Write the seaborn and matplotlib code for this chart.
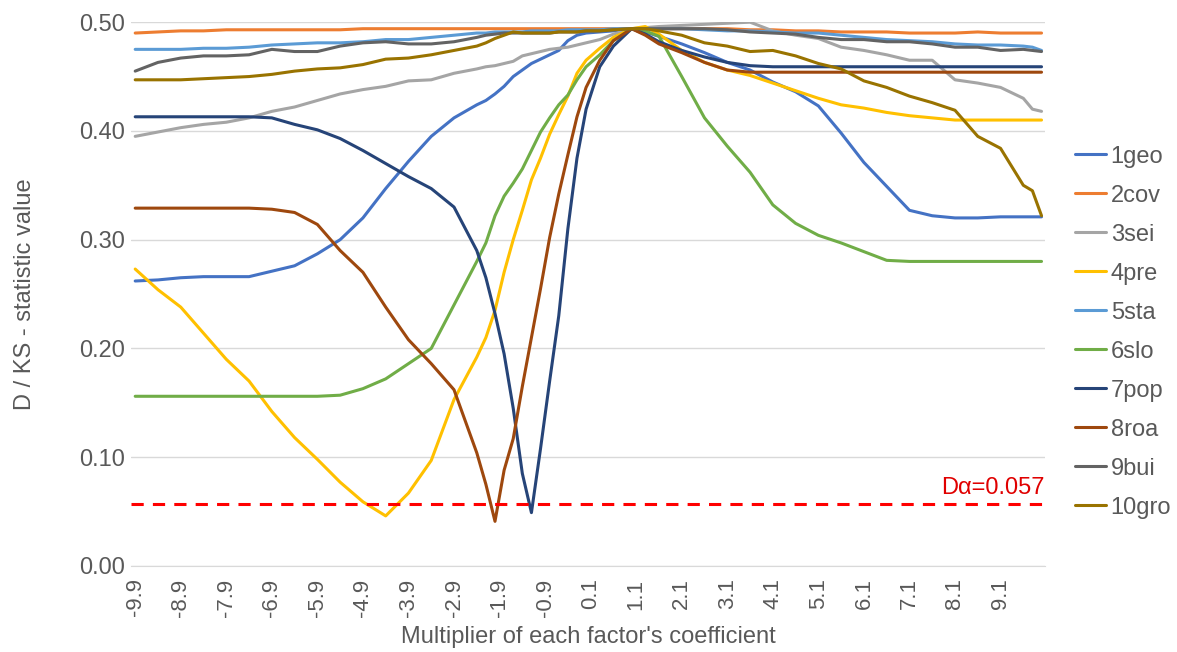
import matplotlib
matplotlib.use("Agg")
import matplotlib.pyplot as plt
import seaborn as sns
import numpy as np
import pandas as pd

# multiplier values (x) shared by all series
mult = [-9.9, -9.4, -8.9, -8.4, -7.9, -7.4, -6.9, -6.4, -5.9, -5.4, -4.9, -4.4, -3.9, -3.4, -2.9,
        -2.4, -2.2, -2.0, -1.8, -1.6, -1.4, -1.2, -1.0, -0.8, -0.6, -0.4, -0.2, 0.0,
        0.3, 0.6, 1.0,
        1.3, 1.6, 2.1, 2.6, 3.1, 3.6, 4.1, 4.6, 5.1, 5.6, 6.1, 6.6, 7.1, 7.6, 8.1, 8.6, 9.1, 9.6, 9.8, 10.0]

geo1 = [.262, .263, .265, .266, .266, .266, .271, .276, .287, .300, .320, .347, .372, .395, .412,
        .424, .428, .434, .441, .450, .456, .462, .466, .470, .474, .483, .488, .490,
        .491, .492, .494,
        .491, .487, .480, .472, .463, .456, .445, .436, .423, .398, .371, .349, .327, .322, .320, .320, .321, .321, .321, .321]
cov2 = [.490, .491, .492, .492, .493, .493, .493, .493, .493, .493, .494, .494, .494, .494, .494,
        .494, .494, .494, .494, .494, .494, .494, .494, .494, .494, .494, .494, .494,
        .494, .494, .494,
        .494, .494, .494, .494, .494, .493, .493, .492, .492, .491, .491, .491, .490, .490, .490, .491, .490, .490, .490, .490]
sei3 = [.395, .399, .403, .406, .408, .412, .418, .422, .428, .434, .438, .441, .446, .447, .453,
        .457, .459, .460, .462, .464, .469, .471, .473, .475, .476, .477, .479, .481,
        .484, .489, .494,
        .495, .496, .497, .498, .499, .500, .492, .488, .485, .477, .474, .470, .465, .465, .447, .444, .440, .430, .420, .418]
pre4 = [.273, .254, .238, .214, .190, .170, .142, .118, .098, .077, .059, .046, .067, .097, .153,
        .192, .210, .235, .270, .300, .327, .355, .375, .397, .415, .432, .453, .465,
        .476, .486, .494,
        .496, .489, .474, .463, .456, .451, .444, .437, .430, .424, .421, .417, .414, .412, .410, .410, .410, .410, .410, .410]
sta5 = [.475, .475, .475, .476, .476, .477, .479, .480, .481, .481, .482, .484, .484, .486, .488,
        .490, .490, .491, .491, .491, .491, .492, .492, .492, .492, .493, .493, .493,
        .493, .494, .494,
        .494, .494, .494, .493, .492, .492, .491, .490, .490, .488, .486, .484, .483, .482, .480, .479, .479, .478, .477, .474]
slo6 = [.156, .156, .156, .156, .156, .156, .156, .156, .156, .157, .163, .172, .186, .200, .240,
        .280, .297, .322, .340, .352, .365, .382, .399, .412, .424, .433, .447, .459,
        .470, .483, .494,
        .492, .487, .450, .412, .386, .362, .332, .315, .304, .297, .289, .281, .280, .280, .280, .280, .280, .280, .280, .280]
pop7 = [.413, .413, .413, .413, .413, .413, .412, .406, .401, .393, .382, .370, .358, .347, .330,
        .290, .265, .232, .195, .145, .085, .049, .108, .170, .230, .310, .375, .420,
        .459, .478, .494,
        .489, .482, .474, .468, .463, .460, .459, .459, .459, .459, .459, .459, .459, .459, .459, .459, .459, .459, .459, .459]
roa8 = [.329, .329, .329, .329, .329, .329, .328, .325, .314, .290, .270, .238, .208, .186, .162,
        .104, .075, .041, .088, .117, .165, .210, .255, .302, .342, .378, .413, .440,
        .465, .483, .494,
        .488, .480, .472, .463, .456, .454, .454, .454, .454, .454, .454, .454, .454, .454, .454, .454, .454, .454, .454, .454]
bui9 = [.455, .463, .467, .469, .469, .470, .475, .473, .473, .478, .481, .482, .480, .480, .482,
        .486, .488, .489, .490, .490, .490, .490, .490, .490, .491, .491, .491, .492,
        .492, .493, .494,
        .494, .494, .494, .494, .493, .491, .490, .489, .486, .484, .484, .482, .482, .480, .477, .477, .474, .475, .474, .473]
gro10 = [.447, .447, .447, .448, .449, .450, .452, .455, .457, .458, .461, .466, .467, .470, .474,
         .478, .481, .485, .488, .491, .490, .490, .490, .490, .491, .491, .491, .492,
         .492, .493, .494,
         .494, .492, .488, .481, .478, .473, .474, .469, .462, .457, .446, .440, .432, .426, .419, .395, .384, .350, .345, .322]

names = ["1geo", "2cov", "3sei", "4pre", "5sta", "6slo", "7pop", "8roa", "9bui", "10gro"]
colors = ["#4472C4", "#ED7D31", "#A5A5A5", "#FFC000", "#5B9BD5",
          "#70AD47", "#264478", "#9E480E", "#636363", "#997300"]
d_alpha = 0.057
tick_vals = [-9.9, -8.9, -7.9, -6.9, -5.9, -4.9, -3.9, -2.9, -1.9, -0.9,
             0.1, 1.1, 2.1, 3.1, 4.1, 5.1, 6.1, 7.1, 8.1, 9.1]

series = [geo1, cov2, sei3, pre4, sta5, slo6, pop7, roa8, bui9, gro10]
frames = []
for name, vals in zip(names, series):
    frames.append(pd.DataFrame({"x": mult, "value": vals, "series": name}))
df = pd.concat(frames, ignore_index=True)

sns.set_style("white")
plt.rcParams["font.family"] = ["Liberation Sans", "DejaVu Sans"]
txt = "#595959"

fig = plt.figure(figsize=(11.77, 6.52), dpi=100)
ax = fig.add_axes([0.111, 0.132, 0.777, 0.834])

sns.lineplot(data=df, x="x", y="value", hue="series", hue_order=names,
             palette=colors, linewidth=2.2, sort=False, ax=ax)

ax.axhline(d_alpha, color="#FF0000", linestyle=(0, (4, 3)), linewidth=2.2, zorder=5)
ax.text(10.06, d_alpha + 0.005, "D\u03b1=0.057", color="#E00000", fontsize=17,
        ha="right", va="bottom")

ax.set_xlim(-10.0, 10.08)
ax.set_ylim(0, 0.5)
ax.set_yticks(np.arange(0, 0.51, 0.1))
ax.set_yticklabels([f"{v:.2f}" for v in np.arange(0, 0.51, 0.1)], fontsize=17, color=txt)
ax.set_xticks(tick_vals)
ax.set_xticklabels([f"{v:.1f}" for v in tick_vals], rotation=90, fontsize=16, color=txt)
ax.tick_params(axis="y", length=0, pad=4)
ax.tick_params(axis="x", length=0, pad=9)
ax.yaxis.grid(True, color="#D9D9D9", linewidth=1)
ax.set_axisbelow(True)
for s in ["top", "right", "left"]:
    ax.spines[s].set_visible(False)
ax.spines["bottom"].set_color("#D9D9D9")

ax.set_xlabel("Multiplier of each factor's coefficient", fontsize=17, color=txt, labelpad=7)
ax.set_ylabel("D / KS - statistic value", fontsize=17, color=txt, labelpad=31)

handles, labels = ax.get_legend_handles_labels()
ax.legend(handles, labels, loc="center left", bbox_to_anchor=(1.0225, 0.43), borderaxespad=0,
          frameon=False, fontsize=17, labelcolor=txt, handlelength=1.3, handletextpad=0.2,
          labelspacing=0.72)

fig.savefig("out.png", dpi=100)
